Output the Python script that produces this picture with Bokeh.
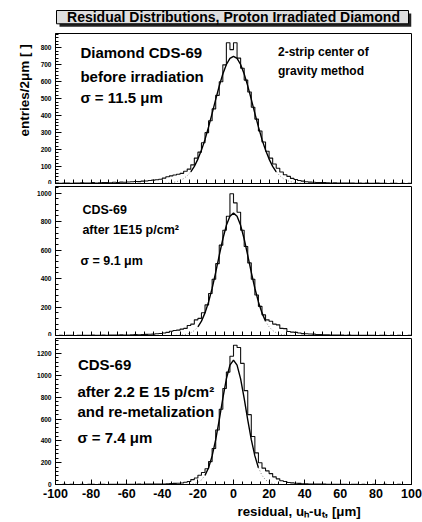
import numpy as np
from bokeh.plotting import figure
from bokeh.layouts import column
from bokeh.models import Range1d, SingleIntervalTicker, FixedTicker, Title, NumeralTickFormatter
from bokeh.core.properties import value
from bokeh.embed import file_html
from bokeh.resources import INLINE

FONT = "Liberation Sans"

# ---------------- data ----------------
title_text = "Residual Distributions, Proton Irradiated Diamond"
y_label = "entries/2μm [ ]"
x_label = "residual, uₕ-uₜ, [μm]"
bin_edges_lo, bin_edges_hi, bin_width = -100, 100, 2

# entries per 2 um bin, bins from -100 to 100 um
counts_before = [2, 1, 3, 2, 1, 3, 2, 4, 3, 2, 5, 3, 4, 6, 5, 4, 7, 6, 8, 7,
                 9, 10, 12, 11, 14, 15, 18, 20, 22, 25,
                 32, 40, 45, 50, 55, 60, 72, 85, 110, 150,
                 185, 240, 300, 370, 440, 520, 600,
                 700, 830, 790, 830, 740,
                 680, 610, 540, 450, 380, 310, 245, 190, 150, 115, 90, 68, 52, 42,
                 30, 24, 18, 14, 10, 8, 7, 6, 5, 6, 4, 3, 4, 3,
                 2, 3, 2, 2, 1, 2, 1, 2, 1, 1, 2, 1, 1, 0, 1, 1, 0, 1, 0, 1]
counts_1e15 = [0, 1, 0, 2, 1, 0, 1, 2, 1, 2, 3, 1, 2, 3, 2, 3, 4, 3, 5, 4,
               4, 5, 6, 5, 7, 8, 9, 10, 12, 14,
               18, 22, 30, 35, 38, 45, 50, 70, 80, 110,
               120, 160, 215, 295, 395, 505, 635,
               740, 838, 996, 932, 866,
               740, 625, 510, 395, 285, 205, 145, 110, 100, 80, 75, 50, 48, 28,
               24, 22, 18, 13, 12, 11, 10, 7, 6, 5, 5, 4, 3, 4,
               3, 2, 3, 2, 1, 2, 1, 1, 2, 1, 0, 1, 1, 0, 1, 0, 1, 0, 0, 1]
counts_2e15 = [0, 0, 1, 0, 1, 0, 0, 1, 0, 1, 1, 0, 1, 1, 0, 2, 1, 1, 2, 1,
               2, 1, 2, 3, 2, 3, 3, 4, 4, 5,
               5, 6, 8, 10, 12, 14, 20, 28, 45, 60,
               85, 110, 145, 210, 330, 500, 690,
               880, 1030, 1175, 1276, 1255,
               1110, 860, 640, 440, 290, 200, 150, 125, 100, 70, 52, 35, 27, 18,
               15, 12, 10, 7, 6, 5, 4, 4, 3, 3, 2, 2, 2, 1,
               1, 1, 0, 1, 1, 0, 1, 0, 0, 1, 0, 0, 1, 0, 0, 0, 1, 0, 0, 0]

# gaussian fit curves
fit_x_before = list(range(-40, 41, 2))
fit_y_before = [1, 2, 4, 6, 11, 18, 29, 46, 69, 101, 144, 197, 260, 334, 414, 496, 576, 646, 702, 738,
                750, 738, 702, 646, 576, 496, 414, 334, 260, 197, 144, 101, 69, 46, 29, 18, 11, 6, 4, 2, 1]
fit_x_1e15 = list(range(-34, 35, 2))
fit_y_1e15 = [0, 1, 2, 5, 10, 19, 35, 61, 101, 159, 236, 332, 444, 563, 678, 774, 838,
              860, 838, 774, 678, 563, 444, 332, 236, 159, 101, 61, 35, 19, 10, 5, 2, 1, 0]
fit_x_2e15 = list(range(-28, 29, 2))
fit_y_2e15 = [0, 1, 3, 8, 19, 42, 84, 154, 262, 411, 593, 790, 968, 1094,
              1140, 1094, 968, 790, 593, 411, 262, 154, 84, 42, 19, 8, 3, 1, 0]

W = 422
FRAME_L, FRAME_R = 55, 11


def set_attr(obj, name, val):
    if hasattr(obj, name):
        setattr(obj, name, val)


def make_panel(counts, fx, fy, solid_lo, solid_hi, ymax, yint, height, top, bottom, xlabels):
    p = figure(width=W, height=height, x_range=Range1d(-100, 100), y_range=Range1d(0, ymax),
               output_backend="svg", toolbar_location=None,
               min_border_left=FRAME_L, min_border_right=FRAME_R,
               min_border_top=top, min_border_bottom=bottom)
    p.grid.visible = False
    p.outline_line_color = "black"
    p.outline_line_width = 1
    p.background_fill_color = "white"
    p.border_fill_color = "white"

    xa = p.xaxis[0]
    xa.axis_line_color = "black"
    xa.major_tick_line_color = "black"
    xa.minor_tick_line_color = "black"
    xa.major_tick_out = 0
    xa.minor_tick_out = 0
    if xlabels:
        xa.ticker = SingleIntervalTicker(interval=20, num_minor_ticks=4)
        xa.formatter = NumeralTickFormatter(format="0")
        xa.major_tick_in = 5
        xa.minor_tick_in = 3
        xa.major_label_text_font = FONT
        xa.major_label_text_font_style = "bold"
        xa.major_label_text_font_size = "12.5px"
        xa.major_label_text_color = "black"
        xa.major_label_standoff = 4
    else:
        xa.ticker = FixedTicker(ticks=[], minor_ticks=list(range(-100, 101, 5)))
        xa.minor_tick_in = 4
        xa.major_label_standoff = 0

    ya = p.yaxis[0]
    ya.ticker = SingleIntervalTicker(interval=yint, num_minor_ticks=5)
    ya.major_tick_in = 6
    ya.major_tick_out = 0
    ya.minor_tick_in = 3
    ya.minor_tick_out = 0
    ya.axis_line_color = "black"
    ya.major_label_text_font = FONT
    ya.major_label_text_font_style = "bold"
    ya.major_label_text_font_size = "6.5px"
    ya.major_label_text_color = "black"
    ya.major_label_standoff = 4

    edges = np.arange(bin_edges_lo, bin_edges_hi + bin_width, bin_width)
    yv = list(counts) + [counts[-1]]
    p.step(x=edges, y=yv, mode="after", line_color="#111111", line_width=1.1)

    fx = np.asarray(fx, dtype=float)
    fy = np.asarray(fy, dtype=float)
    mid = (fx >= solid_lo) & (fx <= solid_hi)
    left = fx <= solid_lo
    right = fx >= solid_hi
    p.line(fx[left], fy[left], line_color="#888888", line_width=1, line_dash="1 2")
    p.line(fx[right], fy[right], line_color="#888888", line_width=1, line_dash="1 2")
    p.line(fx[mid], fy[mid], line_color="black", line_width=1.4)
    return p


# title strip (x range expressed in page pixels across the panel frame)
p0 = figure(width=W, height=30, x_range=Range1d(FRAME_L, W - FRAME_R), y_range=Range1d(30, 0),
            output_backend="svg", toolbar_location=None,
            min_border_left=FRAME_L, min_border_right=FRAME_R, min_border_top=0, min_border_bottom=0,
            x_axis_location=None, y_axis_location=None)
p0.grid.visible = False
p0.outline_line_color = None
p0.background_fill_color = "white"
p0.border_fill_color = "white"
p0.quad(left=[59], right=[411], top=[13], bottom=[26.3], fill_color="#222222", line_color=None)
p0.quad(left=[56], right=[408], top=[10], bottom=[23.3], fill_color="#dedede",
        line_color="black", line_width=1)
p0.text(x=[233], y=[16.8], text=[title_text], text_font=value(FONT), text_font_style="bold",
        text_font_size="14px", text_align="center", text_baseline="middle", text_color="black")

p1 = make_panel(counts_before, fit_x_before, fit_y_before, -24, 24, 885, 100, 154, 3, 1, False)
p1.text(x=[-86, -86, -86], y=[775, 633, 509],
        text=["Diamond CDS-69", "before irradiation", "σ = 11.5 μm"],
        text_font=value(FONT), text_font_style="bold", text_font_size="15px",
        text_baseline="middle", text_align="left", text_color="black")
p1.text(x=[25, 25], y=[775, 665], text=["2-strip center of", "gravity method"],
        text_font=value(FONT), text_font_style="bold", text_font_size="12px",
        text_baseline="middle", text_align="left", text_color="black")
yt = Title(text=y_label, align="left", offset=47, text_font=FONT, text_font_style="bold",
           text_font_size="13.5px", text_color="black")
set_attr(yt, "standoff", 11)
p1.add_layout(yt, "left")

p2 = make_panel(counts_1e15, fit_x_1e15, fit_y_1e15, -20, 18, 1047, 200, 152, 2, 1, False)
p2.text(x=[-84.9, -84.9, -86], y=[880, 738, 527],
        text=["CDS-69", "after 1E15 p/cm²", "σ = 9.1 μm"],
        text_font=value(FONT), text_font_style="bold", text_font_size="12.5px",
        text_baseline="middle", text_align="left", text_color="black")

p3 = make_panel(counts_2e15, fit_x_2e15, fit_y_2e15, -16, 14, 1338, 200, 185, 2, 37, True)
p3.text(x=[-87.4, -87.7, -87.7, -87.7], y=[1101, 853, 670, 429],
        text=["CDS-69", "after 2.2 E 15 p/cm²", "and re-metalization", "σ = 7.4 μm"],
        text_font=value(FONT), text_font_style="bold", text_font_size="15px",
        text_baseline="middle", text_align="left", text_color="black")
xt = Title(text=x_label, align="left", offset=182, text_font=FONT, text_font_style="bold",
           text_font_size="13.3px", text_color="black")
set_attr(xt, "standoff", 2)
p3.add_layout(xt, "below")

layout = column(p0, p1, p2, p3, spacing=0)
open("out.html", "w").write(file_html(layout, INLINE))
